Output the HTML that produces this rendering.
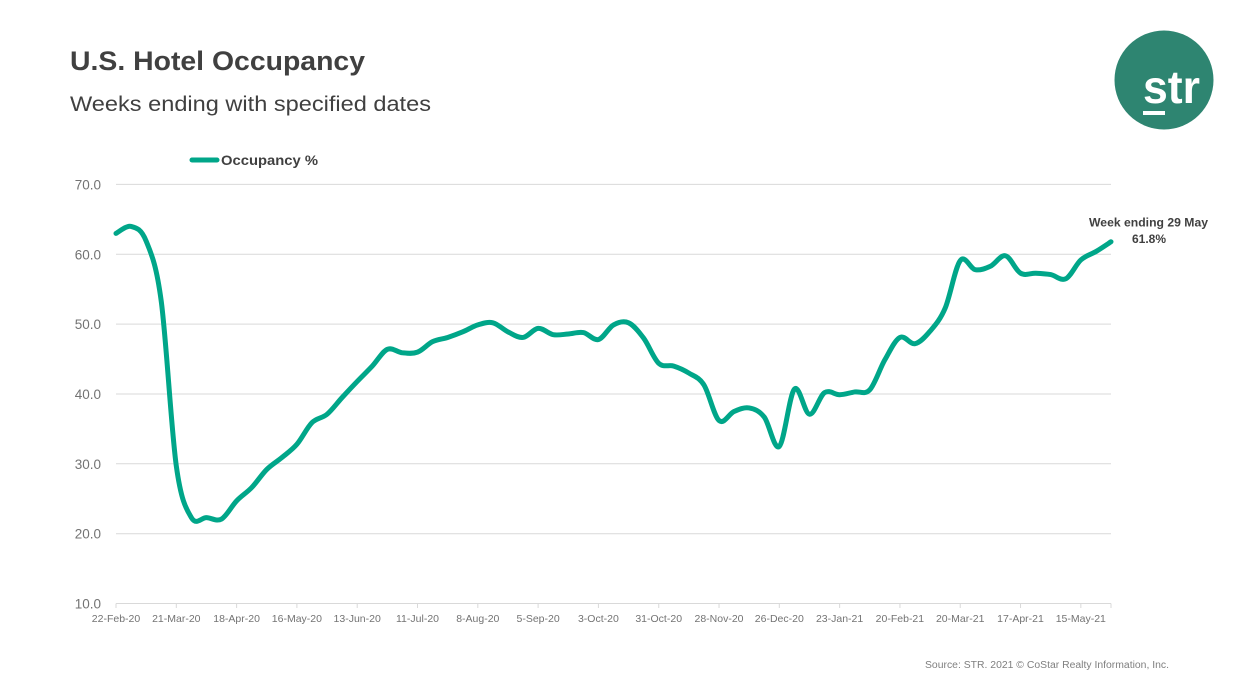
<!DOCTYPE html>
<html>
<head>
<meta charset="utf-8">
<style>
  html, body { margin: 0; padding: 0; background: #ffffff; }
  body { width: 1245px; height: 700px; overflow: hidden; }
  svg { display: block; }
  text { font-family: "Liberation Sans", Arial, sans-serif; }
</style>
</head>
<body>
<svg id="chart" width="1245" height="700" viewBox="0 0 1245 700" xmlns="http://www.w3.org/2000/svg">
  <rect x="0" y="0" width="1245" height="700" fill="#ffffff"/>

  <!-- Title -->
  <text x="70" y="70" font-size="27" font-weight="bold" fill="#404040" textLength="295" lengthAdjust="spacingAndGlyphs">U.S. Hotel Occupancy</text>
  <text x="70" y="111" font-size="21" fill="#404040" textLength="361" lengthAdjust="spacingAndGlyphs">Weeks ending with specified dates</text>

  <!-- Logo -->
  <circle cx="1164" cy="80" r="49.5" fill="#2E8571"/>
  <text x="1143" y="103" font-size="46" font-weight="bold" fill="#ffffff" textLength="57" lengthAdjust="spacingAndGlyphs">str</text>
  <rect x="1143" y="111" width="22" height="4" fill="#ffffff"/>

  <!-- Legend -->
  <line x1="192" y1="160" x2="217" y2="160" stroke="#00A689" stroke-width="5" stroke-linecap="round"/>
  <text x="221" y="165" font-size="14" font-weight="bold" fill="#404040" textLength="97" lengthAdjust="spacingAndGlyphs">Occupancy %</text>

  <!-- Gridlines -->
  <g stroke="#D9D9D9" stroke-width="1">
    <line x1="116" y1="184.4" x2="1111" y2="184.4"/>
    <line x1="116" y1="254.3" x2="1111" y2="254.3"/>
    <line x1="116" y1="324.1" x2="1111" y2="324.1"/>
    <line x1="116" y1="394.0" x2="1111" y2="394.0"/>
    <line x1="116" y1="463.8" x2="1111" y2="463.8"/>
    <line x1="116" y1="533.7" x2="1111" y2="533.7"/>
    <line x1="116" y1="603.5" x2="1111" y2="603.5"/>
  </g>
  <g id="ticks" stroke="#D9D9D9" stroke-width="1"></g>

  <!-- Y labels -->
  <g font-size="13.5" fill="#737373" text-anchor="end">
    <text x="101" y="189.4">70.0</text>
    <text x="101" y="259.3">60.0</text>
    <text x="101" y="329.1">50.0</text>
    <text x="101" y="399.0">40.0</text>
    <text x="101" y="468.8">30.0</text>
    <text x="101" y="538.7">20.0</text>
    <text x="101" y="608.5">10.0</text>
  </g>

  <!-- X labels -->
  <g font-size="10.5" fill="#737373" text-anchor="middle">
    <text x="116.0" y="622">22-Feb-20</text>
    <text x="176.3" y="622">21-Mar-20</text>
    <text x="236.6" y="622">18-Apr-20</text>
    <text x="296.9" y="622">16-May-20</text>
    <text x="357.2" y="622">13-Jun-20</text>
    <text x="417.5" y="622">11-Jul-20</text>
    <text x="477.8" y="622">8-Aug-20</text>
    <text x="538.1" y="622">5-Sep-20</text>
    <text x="598.4" y="622">3-Oct-20</text>
    <text x="658.7" y="622">31-Oct-20</text>
    <text x="719.0" y="622">28-Nov-20</text>
    <text x="779.3" y="622">26-Dec-20</text>
    <text x="839.6" y="622">23-Jan-21</text>
    <text x="899.9" y="622">20-Feb-21</text>
    <text x="960.2" y="622">20-Mar-21</text>
    <text x="1020.5" y="622">17-Apr-21</text>
    <text x="1080.8" y="622">15-May-21</text>
  </g>

  <!-- Series -->
  <path id="series" d="" fill="none" stroke="#00A689" stroke-width="5" stroke-linejoin="round" stroke-linecap="round"/>

  <!-- Annotation -->
  <text x="1089" y="226.5" font-size="12" font-weight="bold" fill="#404040" textLength="119" lengthAdjust="spacingAndGlyphs">Week ending 29 May</text>
  <text x="1149" y="243" font-size="12" font-weight="bold" fill="#404040" text-anchor="middle">61.8%</text>

  <!-- Source -->
  <text x="925" y="668" font-size="10" fill="#7F7F7F" textLength="244" lengthAdjust="spacingAndGlyphs">Source: STR. 2021 © CoStar Realty Information, Inc.</text>
</svg>
<script>
(function(){
  var vals = [63.0,64.0,61.9,53.3,29.7,22.3,22.3,22.1,24.7,26.6,29.2,30.9,32.8,35.9,37.1,39.5,41.8,44.0,46.4,45.9,
              46.0,47.5,48.1,48.9,49.9,50.2,48.9,48.1,49.4,48.5,48.6,48.8,47.8,49.9,50.2,48.0,44.4,44.0,43.0,41.3,
              36.2,37.5,38.0,36.7,32.5,40.7,37.1,40.2,39.9,40.3,40.6,44.9,48.1,47.2,49.0,52.3,59.1,57.8,58.3,59.8,
              57.3,57.3,57.1,56.5,59.2,60.4,61.8];
  var n = vals.length;
  var step = 995 / (n - 1);
  var pts = vals.map(function(v,i){ return [116 + i*step, 603.5 - (v-10)*6.983]; });
  var d = "M" + pts[0][0].toFixed(2) + "," + pts[0][1].toFixed(2);
  for (var i = 0; i < n-1; i++) {
    var p0 = pts[Math.max(0,i-1)], p1 = pts[i], p2 = pts[i+1], p3 = pts[Math.min(n-1,i+2)];
    var c1x = p1[0] + (p2[0]-p0[0])/6, c1y = p1[1] + (p2[1]-p0[1])/6;
    var c2x = p2[0] - (p3[0]-p1[0])/6, c2y = p2[1] - (p3[1]-p1[1])/6;
    d += " C" + c1x.toFixed(2)+","+c1y.toFixed(2)+" "+c2x.toFixed(2)+","+c2y.toFixed(2)+" "+p2[0].toFixed(2)+","+p2[1].toFixed(2);
  }
  document.getElementById("series").setAttribute("d", d);
  var tg = document.getElementById("ticks");
  for (var k = 0; k <= 16; k++) {
    var x = 116 + k*4*step;
    var l = document.createElementNS("http://www.w3.org/2000/svg","line");
    l.setAttribute("x1", x); l.setAttribute("x2", x);
    l.setAttribute("y1", 603.5); l.setAttribute("y2", 608);
    tg.appendChild(l);
  }
  var l2 = document.createElementNS("http://www.w3.org/2000/svg","line");
  l2.setAttribute("x1", 1111); l2.setAttribute("x2", 1111);
  l2.setAttribute("y1", 603.5); l2.setAttribute("y2", 608);
  tg.appendChild(l2);
})();
</script>
</body>
</html>
